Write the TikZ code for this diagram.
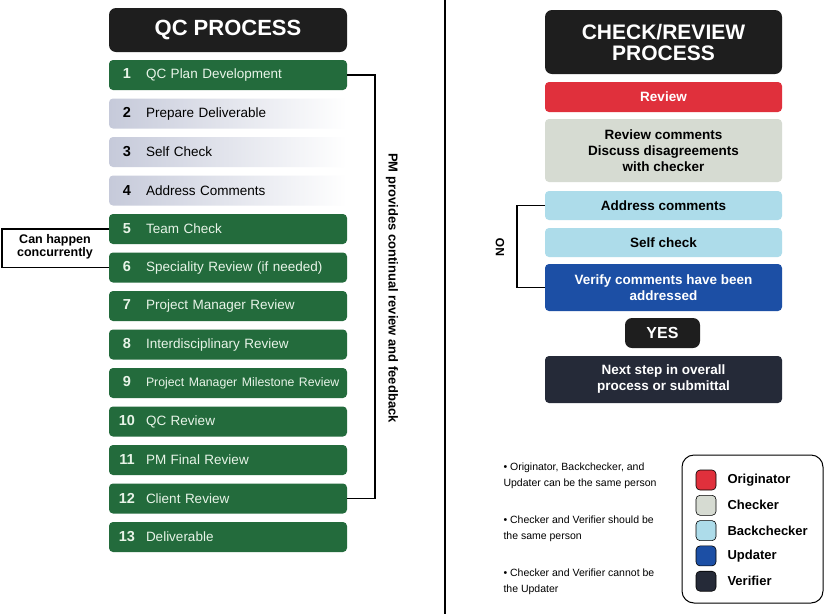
\documentclass[tikz,border=0pt]{standalone}
\usepackage{fontspec}
\setmainfont{Liberation Sans}
\usepackage{xcolor}

\newcommand{\stepnum}[1]{\makebox[30pt]{\bfseries\fontsize{14.5}{15}\selectfont #1}\hspace{4pt}}

\begin{document}
\begin{tikzpicture}[x=1pt,y=-1pt,
  stepbox/.style={rounded corners=4pt,minimum width=238pt,minimum height=30pt,text width=232pt,align=left,inner xsep=3pt,font=\fontsize{13.5}{15}\selectfont},
  greenstep/.style={stepbox,fill=qcgreen,text=stepwhite},
  greystep/.style={stepbox,left color=stepgrey,right color=white,text=black},
  headbox/.style={rounded corners=7pt,fill=titleblack,text=white,align=center,font=\bfseries\fontsize{21}{21}\selectfont},
  crbox/.style={rounded corners=4pt,minimum width=237pt,align=center,font=\bfseries\fontsize{13.5}{16}\selectfont},
  bracket/.style={draw=black,line width=1.2pt},
  swatch/.style={draw=black,rounded corners=4pt,minimum size=20pt,line width=0.6pt},
  legtext/.style={anchor=west,font=\bfseries\fontsize{13}{15}\selectfont},
  note/.style={anchor=west,align=left,font=\fontsize{10.5}{16}\selectfont}]
\definecolor{qcgreen}{HTML}{236B3C}
\definecolor{stepwhite}{HTML}{E8F4E8}
\definecolor{stepgrey}{HTML}{C6CADA}
\definecolor{titleblack}{HTML}{1E1E1E}
\definecolor{origred}{HTML}{E0303C}
\definecolor{checkgrey}{HTML}{D6DBD2}
\definecolor{backblue}{HTML}{ADDCEA}
\definecolor{updblue}{HTML}{1C4FA5}
\definecolor{verdark}{HTML}{252A38}
\useasboundingbox[fill=white] (0,0) rectangle (825,614);

% left column: QC process
\node[headbox,minimum width=238pt,minimum height=44pt,font=\bfseries\fontsize{22}{22}\selectfont] (qchead) at (228,30) {QC PROCESS};
\foreach \i/\sty/\lbl in {1/greenstep/QC Plan Development,2/greystep/Prepare Deliverable,
    3/greystep/Self Check,4/greystep/Address Comments,5/greenstep/Team Check,
    6/greenstep/Speciality Review (if needed),7/greenstep/Project Manager Review,
    8/greenstep/Interdisciplinary Review,9/greenstep/{\fontsize{12.3}{14}\selectfont Project Manager Milestone Review},
    10/greenstep/QC Review,11/greenstep/PM Final Review,12/greenstep/Client Review,13/greenstep/Deliverable}
  {\node[\sty] (s\i) at (228,{75+38.5*(\i-1)}) {\stepnum{\i}\lbl};}

\coordinate (pmx) at (375,0);
\draw[bracket] (s1.east) -- (s1.east -| pmx) -- (s12.east -| pmx) -- (s12.east);
\node[rotate=-90,font=\bfseries\fontsize{13}{13}\selectfont] (pm) at (392,288) {PM provides continual review and feedback};

\coordinate (concx) at (2,0);
\draw[bracket] (s5.west) -- (s5.west -| concx) -- (s6.west -| concx) -- (s6.west);
\node[align=center,font=\bfseries\fontsize{12.5}{13}\selectfont] (conc) at (55,247) {Can happen\\concurrently};

% separator
\coordinate (septop) at (445,0);
\coordinate (sepbot) at (445,614);
\draw[line width=1.2pt] (septop) -- (sepbot);

% right column: check/review process
\node[headbox,minimum width=237pt,minimum height=64pt] (crhead) at (663.5,42) {CHECK/REVIEW\\PROCESS};
\node[crbox,fill=origred,text=white,minimum height=30pt] (review) at (663.5,97) {Review};
\node[crbox,fill=checkgrey,minimum height=63pt] (discuss) at (663.5,150.5) {Review comments\\Discuss disagreements\\with checker};
\node[crbox,fill=backblue,minimum height=29pt] (address) at (663.5,205.5) {Address comments};
\node[crbox,fill=backblue,minimum height=29pt] (selfck) at (663.5,242.5) {Self check};
\node[crbox,fill=updblue,text=white,minimum height=47pt] (verify) at (663.5,287.5) {Verify comments have been\\addressed};
\node[crbox,fill=titleblack,text=white,minimum width=75pt,minimum height=30pt,rounded corners=7pt,font=\bfseries\fontsize{16}{16}\selectfont] (yes) at (662.5,333) {YES};
\node[crbox,fill=verdark,text=white,minimum height=47pt] (next) at (663.5,379.5) {Next step in overall\\process or submittal};

\coordinate (nox) at (517,0);
\draw[bracket] (address.west) -- (address.west -| nox) -- (verify.west -| nox) -- (verify.west);
\node[rotate=90,font=\bfseries\fontsize{12}{12}\selectfont] (nolbl) at (500,247) {NO};

% notes
\node[note] (note1) at (500,476) {• Originator, Backchecker, and\\Updater can be the same person};
\node[note] (note2) at (500,529) {• Checker and Verifier should be\\the same person};
\node[note] (note3) at (500,582) {• Checker and Verifier cannot be\\the Updater};

% legend
\node[draw,line width=1pt,rounded corners=12pt,minimum width=141pt,minimum height=148pt] (legend) at (752.5,529) {};
\foreach \j/\clr/\role in {0/origred/Originator,1/checkgrey/Checker,2/backblue/Backchecker,3/updblue/Updater,4/verdark/Verifier}
  {\node[swatch,fill=\clr] (sw\j) at (706,{480+25.3*\j}) {};
   \node[legtext] (lg\j) at (724,{480+25.3*\j}) {\role};}
\end{tikzpicture}
\end{document}
